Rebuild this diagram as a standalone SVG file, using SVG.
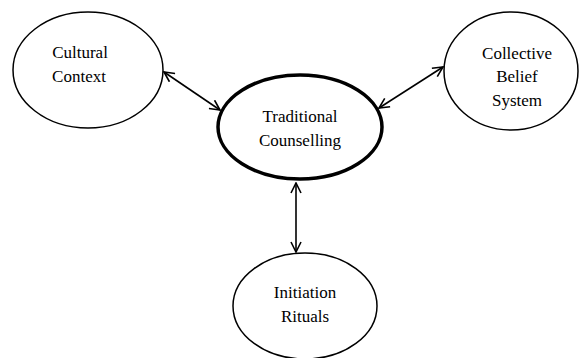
<svg xmlns="http://www.w3.org/2000/svg" width="579" height="358" viewBox="0 0 579 358">
<style>
.n{fill:#fff;stroke:#000;stroke-width:1.5}
.c{stroke-width:3.5}
.t{font-size:17px;fill:#000;text-anchor:middle}
.e{stroke:#000;stroke-width:1.6;fill:none;marker-start:url(#a);marker-end:url(#a)}
</style>
<defs>
<marker id="a" viewBox="0 0 12 12" refX="11" refY="6" markerWidth="12" markerHeight="12" markerUnits="userSpaceOnUse" orient="auto-start-reverse">
<path d="M1,1 L11,6 L1,11" fill="none" stroke="#000" stroke-width="1.6"/>
</marker>
</defs>
<rect width="579" height="358" fill="#fff"/>
<g id="edges">
<line class="e" x1="164" y1="72" x2="220" y2="110"/>
<line class="e" x1="443" y1="67" x2="379" y2="108"/>
<line class="e" x1="296" y1="183" x2="296" y2="252"/>
</g>
<g id="cultural" font-family="Liberation Serif">
<ellipse class="n" cx="88" cy="70" rx="75" ry="58"/>
<text class="t" x="80" y="58" font-family="Liberation Serif">Cultural</text>
<text class="t" x="79" y="82" font-family="Liberation Serif">Context</text>
</g>
<g id="traditional" font-family="Liberation Serif">
<ellipse class="n c" cx="300" cy="127" rx="82" ry="52"/>
<text class="t" x="300" y="122" font-family="Liberation Serif">Traditional</text>
<text class="t" x="300" y="146" font-family="Liberation Serif">Counselling</text>
</g>
<g id="collective" font-family="Liberation Serif">
<ellipse class="n" cx="511" cy="71" rx="67" ry="59"/>
<text class="t" x="517" y="59" font-family="Liberation Serif">Collective</text>
<text class="t" x="517" y="82" font-family="Liberation Serif">Belief</text>
<text class="t" x="517" y="106" font-family="Liberation Serif">System</text>
</g>
<g id="initiation" font-family="Liberation Serif">
<ellipse class="n" cx="305" cy="306" rx="72" ry="53"/>
<text class="t" x="305" y="298" font-family="Liberation Serif">Initiation</text>
<text class="t" x="305" y="322" font-family="Liberation Serif">Rituals</text>
</g>
</svg>
